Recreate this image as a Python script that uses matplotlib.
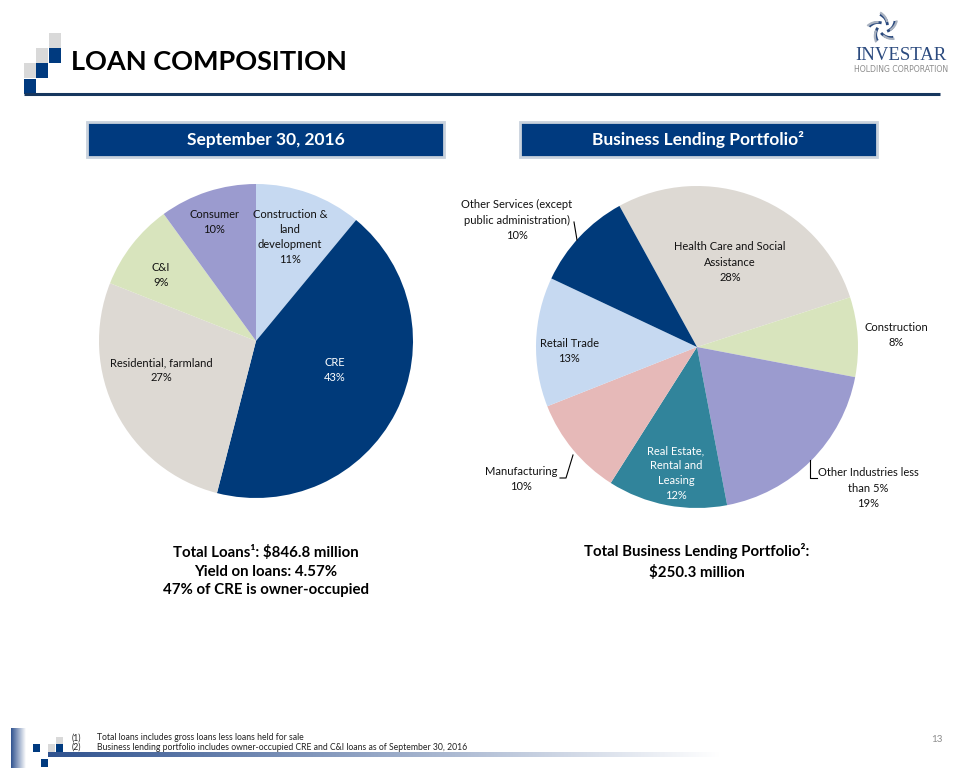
import numpy as np
import matplotlib.pyplot as plt
from matplotlib.patches import Rectangle, Arc
from matplotlib.colors import LinearSegmentedColormap

plt.rcParams['font.family'] = ['Lato', 'DejaVu Sans']

W, H = 960, 768

# Loan composition, September 30, 2016
loan_names = ['Construction &\nland\ndevelopment', 'CRE', 'Residential, farmland', 'C&I', 'Consumer']
loan_pct = [11, 43, 27, 9, 10]
loan_colors = ['#C6D9F1', '#003A7A', '#DDD9D3', '#D8E4BD', '#9B9BCF']
loan_txt = ['#111111', 'white', '#111111', '#111111', '#111111']
loan_label_xy = [(290, 237), (335, 370), (161, 370), (161, 275), (214, 222)]

# Business lending portfolio
biz_names = ['Health Care and Social\nAssistance', 'Construction', 'Other Industries less\nthan 5%',
             'Real Estate,\nRental and\nLeasing', 'Manufacturing', 'Retail Trade',
             'Other Services (except\npublic administration)']
biz_pct = [28, 8, 19, 12, 10, 13, 10]
biz_colors = ['#DDD9D3', '#D8E4BD', '#9B9BCF', '#31849B', '#E6B9B8', '#C6D9F1', '#003A7A']
biz_txt = ['#111111', '#111111', '#111111', 'white', '#111111', '#111111', '#111111']
biz_label_xy = [(730, 262), (896, 335), (868, 488), (676, 473), (521, 479), (569, 351), (517, 220)]

NAVY = '#003A7F'
GRAY_SQ = '#D9D9D9'


def px_axes(fig, x0, y0, x1, y1):
    return fig.add_axes([x0 / W, 1 - y1 / H, (x1 - x0) / W, (y1 - y0) / H])


fig = plt.figure(figsize=(9.6, 7.68), dpi=100)

# pies
for cx, cy, r, vals, cols, start in [(256, 341, 157, loan_pct, loan_colors, 90),
                                     (697, 347, 161, biz_pct, biz_colors, 118.8)]:
    ax = px_axes(fig, cx - r, cy - r, cx + r, cy + r)
    ax.pie(vals, colors=cols, startangle=start, counterclock=False,
           wedgeprops=dict(linewidth=0))
    ax.set_xlim(-1, 1)
    ax.set_ylim(-1, 1)
    ax.axis('off')

# overlay for text and decorations (pixel coordinates)
ov = fig.add_axes([0, 0, 1, 1], facecolor='none')
ov.axis('off')

# title block squares
for x, y, c in [(49, 33, GRAY_SQ), (49, 48, NAVY), (36, 48, GRAY_SQ), (36, 63, NAVY),
                (24, 63, GRAY_SQ), (24, 79, NAVY)]:
    ov.add_patch(Rectangle((x, y), 12, 15, color=c, lw=0))
ov.plot([24, 940], [93.5, 93.5], color='#17375E', lw=2.2, solid_capstyle='butt')
ov.text(71, 62, 'LOAN COMPOSITION', fontsize=19.5, fontweight='bold', color='black',
        va='center', ha='left')

# logo: swoosh star
lx, ly = 883, 28
for k in range(5):
    a = np.radians(90 + k * 72)
    dx, dy = np.cos(a), -np.sin(a)
    rot = np.degrees(np.arctan2(dy, dx))
    ov.add_patch(Arc((lx + 8 * dx, ly + 8 * dy), 24, 24, angle=rot + 95,
                     theta1=0, theta2=65, color='#2B4A7E', lw=2.0))
    ov.add_patch(Arc((lx + 10 * dx, ly + 10 * dy), 28, 28, angle=rot + 100,
                     theta1=0, theta2=50, color='#A9B2C0', lw=1.6))
ov.text(901, 55, 'INVESTAR', fontsize=13.5, family='Liberation Serif', color='#2B4A7E',
        ha='center', va='center')
ov.text(901, 69, 'HOLDING CORPORATION', fontsize=5.6, family=['Liberation Sans Narrow', 'DejaVu Sans'],
        color='#8C8C8C', ha='center', va='center')

# header boxes
for x0, title in [(87, 'September 30, 2016'), (520, 'Business Lending Portfolio²')]:
    ov.add_patch(Rectangle((x0, 122), 357, 35, facecolor=NAVY, edgecolor='#C9D2DD', lw=2))
    ov.text(x0 + 178.5, 139.5, title, fontsize=12.5, fontweight='bold', color='white',
            ha='center', va='center')

# pie labels
for names, vals, xy, tc in [(loan_names, loan_pct, loan_label_xy, loan_txt),
                            (biz_names, biz_pct, biz_label_xy, biz_txt)]:
    for n, v, (x, y), c in zip(names, vals, xy, tc):
        ov.text(x, y, f'{n}\n{v}%', fontsize=8, color=c, ha='center', va='center',
                linespacing=1.45)

# leader lines
ov.plot([574, 577], [222, 240], color='black', lw=0.8)
ov.plot([560, 566, 573], [478, 478, 455], color='black', lw=0.8)
ov.plot([810, 810, 817], [460, 478, 478], color='black', lw=0.8)

# summary text
ov.text(266, 571, 'Total Loans¹: $846.8 million\nYield on loans: 4.57%\n47% of CRE is owner-occupied',
        fontsize=10.8, fontweight='bold', ha='center', va='center', linespacing=1.45)
ov.text(697, 561.5, 'Total Business Lending Portfolio²:\n$250.3 million',
        fontsize=10.8, fontweight='bold', ha='center', va='center', linespacing=1.45)

# footer
grad = np.linspace(0, 1, 256).reshape(1, -1)
cmap = LinearSegmentedColormap.from_list('g', ['#2F528F', '#FFFFFF'])
ov.imshow(grad, extent=(11, 26, 768, 728), cmap=cmap, aspect='auto', zorder=1)
ov.imshow(grad, extent=(48, 720, 757, 752), cmap=cmap, aspect='auto', zorder=1)
for x, y, c in [(33, 744, NAVY), (48, 744, GRAY_SQ), (56, 737, GRAY_SQ), (56, 744, NAVY),
                (41, 759, NAVY)]:
    ov.add_patch(Rectangle((x, y), 7, 8, color=c, lw=0, zorder=2))
ov.text(72, 738, '(1)', fontsize=6.2, color='#222222', va='center')
ov.text(97, 738, 'Total loans includes gross loans less loans held for sale', fontsize=6.2,
        color='#222222', va='center')
ov.text(72, 747, '(2)', fontsize=6.2, color='#222222', va='center')
ov.text(97, 747, 'Business lending portfolio includes owner-occupied CRE and C&I loans as of September 30, 2016',
        fontsize=6.2, color='#222222', va='center')
ov.text(937, 740, '13', fontsize=7, color='#8C8C8C', ha='center', va='center')

ov.set_xlim(0, W)
ov.set_ylim(H, 0)

fig.savefig('out.png', dpi=100)
